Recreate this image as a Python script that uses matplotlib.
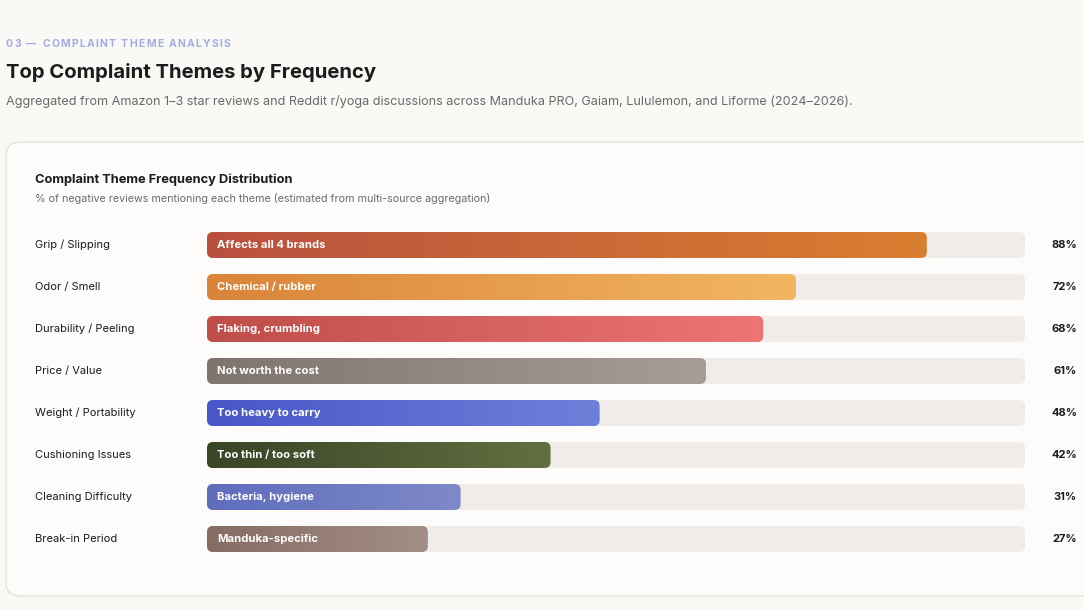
import numpy as np
import matplotlib
matplotlib.use("Agg")
import matplotlib.pyplot as plt
from matplotlib.patches import FancyBboxPatch
from matplotlib.colors import LinearSegmentedColormap
from matplotlib.transforms import blended_transform_factory

plt.rcParams["font.family"] = ["Inter", "DejaVu Sans"]

# data
temas = [
    "Grip / Slipping",
    "Odor / Smell",
    "Durability / Peeling",
    "Price / Value",
    "Weight / Portability",
    "Cushioning Issues",
    "Cleaning Difficulty",
    "Break-in Period",
]
porcentajes = [88, 72, 68, 61, 48, 42, 31, 27]
notas = [
    "Affects all 4 brands",
    "Chemical / rubber",
    "Flaking, crumbling",
    "Not worth the cost",
    "Too heavy to carry",
    "Too thin / too soft",
    "Bacteria, hygiene",
    "Manduka-specific",
]
colores = [
    ("#b9503f", "#d97f30"),
    ("#d9843a", "#f3b660"),
    ("#bf4d48", "#ee7572"),
    ("#7f756e", "#a79d96"),
    ("#4757c8", "#6f80da"),
    ("#3a4427", "#627040"),
    ("#5f6dbd", "#7d89c8"),
    ("#876c63", "#a28f86"),
]

W, H = 1084, 610
fondo = "#faf9f6"


def fx(x):
    return x / W


def fy(y):
    return 1 - y / H


fig = plt.figure(figsize=(W / 100, H / 100), dpi=100, facecolor=fondo)

# card
tarjeta = FancyBboxPatch(
    (fx(6), fy(596)), fx(1100) - fx(6), fy(142) - fy(596),
    boxstyle="round,pad=0,rounding_size=0.0129",
    mutation_aspect=W / H,
    transform=fig.transFigure, facecolor="#fdfcfa", edgecolor="#e6e3dd",
    linewidth=1.0, zorder=-5,
)
fig.patches.append(tarjeta)

# kicker with letter spacing
renderer = fig.canvas.get_renderer()
x = 6
kicker = "03 — COMPLAINT THEME ANALYSIS"
for ch in kicker:
    if ch == " ":
        x += 4.0
        continue
    t = fig.text(fx(x), fy(44), ch, fontsize=7.5, fontweight="bold",
                 color="#a3abe3", va="center", ha="left")
    x += t.get_window_extent(renderer).width + 1.3

fig.text(fx(6), fy(72), "Top Complaint Themes by Frequency", fontsize=14.6,
         fontweight="bold", color="#1c1c1c", va="center", ha="left")
fig.text(fx(6), fy(102),
         "Aggregated from Amazon 1–3 star reviews and Reddit r/yoga discussions "
         "across Manduka PRO, Gaiam, Lululemon, and Liforme (2024–2026).",
         fontsize=9.1, color="#6b6b6b", va="center", ha="left")
fig.text(fx(35), fy(180), "Complaint Theme Frequency Distribution", fontsize=9.25,
         fontweight="bold", color="#1c1c1c", va="center", ha="left")
fig.text(fx(35), fy(199),
         "% of negative reviews mentioning each theme (estimated from multi-source aggregation)",
         fontsize=7.75, color="#6b6b6b", va="center", ha="left")

# bars axes
x0, x1 = 207, 1025
y0, y1 = 224, 560
ax = fig.add_axes([fx(x0), fy(y1), fx(x1) - fx(x0), fy(y0) - fy(y1)])
ax.set_axis_off()
ax.patch.set_alpha(0)

n = len(temas)
alto = 26 / 42
px_x = (x1 - x0) / 100
px_y = (y1 - y0) / n
aspecto = px_x / px_y
radio = 6 / px_x

for i in range(n):
    pista = FancyBboxPatch(
        (0, i - alto / 2), 100, alto,
        boxstyle=f"round,pad=0,rounding_size={radio}",
        mutation_aspect=aspecto, facecolor="#efece9", edgecolor="none", zorder=1,
    )
    ax.add_patch(pista)

    barra = FancyBboxPatch(
        (0, i - alto / 2), porcentajes[i], alto,
        boxstyle=f"round,pad=0,rounding_size={radio}",
        mutation_aspect=aspecto, facecolor="none", edgecolor="none", zorder=2,
    )
    ax.add_patch(barra)
    cmap = LinearSegmentedColormap.from_list(f"g{i}", list(colores[i]))
    im = ax.imshow(
        np.linspace(0, 1, 256).reshape(1, -1), cmap=cmap, aspect="auto",
        extent=[0, porcentajes[i], i + alto / 2, i - alto / 2], zorder=2,
        interpolation="bilinear",
    )
    im.set_clip_path(barra)

    ax.text(10 / px_x, i + 0.01, notas[i], color="white", fontsize=8.1,
            fontweight="bold", va="center", ha="left", zorder=3)

trans = blended_transform_factory(fig.transFigure, ax.transData)
for i in range(n):
    ax.text(fx(35), i, temas[i], transform=trans, fontsize=8.0, color="#1c1c1c",
            va="center", ha="left", clip_on=False)
    ax.text(fx(1077), i, f"{porcentajes[i]}%", transform=trans, fontsize=8.0,
            fontweight="bold", color="#1c1c1c", va="center", ha="right",
            clip_on=False)

ax.set_xlim(0, 100)
ax.set_ylim(n - 0.5, -0.5)

fig.savefig("out.png", dpi=100, facecolor=fondo)
